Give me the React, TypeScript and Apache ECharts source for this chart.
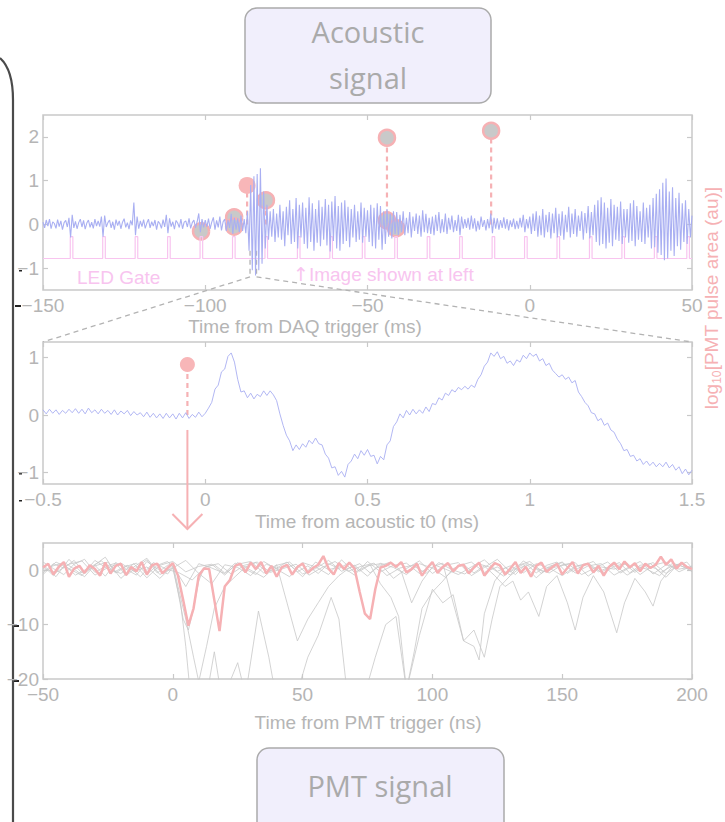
import React, { useEffect, useRef } from 'react';
import * as echarts from 'echarts';

// ---------- Top panel: acoustic signal (ms from DAQ trigger) ----------
const acousticStart = -150;
const acousticStep = 0.5;
const acousticSignal = [
  0.05,-0.08,0.10,-0.04,0.12,-0.10,0.06,0.02,-0.09,0.11,-0.05,0.08,-0.12,0.04,0.09,-0.06,0.15,-0.30,0.22,-0.08,
  0.07,-0.10,0.04,0.12,-0.06,0.09,-0.11,0.03,0.10,-0.07,0.05,-0.09,0.12,-0.04,0.08,-0.05,0.18,-0.28,0.20,-0.06,
  0.04,0.10,-0.08,0.06,-0.12,0.11,-0.03,0.08,-0.10,0.05,0.13,-0.07,0.04,-0.11,0.09,-0.02,0.50,-0.25,0.18,-0.10,
  0.08,-0.05,0.11,-0.09,0.03,0.12,-0.08,0.06,-0.04,0.10,-0.12,0.07,0.02,-0.09,0.11,-0.06,0.22,-0.20,0.14,-0.05,
  0.06,-0.11,0.09,0.03,-0.07,0.12,-0.10,0.05,0.08,-0.06,0.14,-0.09,0.04,0.10,-0.08,0.06,0.25,-0.18,0.12,-0.07,
  0.10,-0.06,0.13,-0.10,0.05,0.16,-0.12,0.09,-0.07,0.18,-0.14,0.06,0.12,-0.15,0.10,-0.08,0.24,-0.22,0.15,-0.12,
  0.14,-0.18,0.20,-0.15,0.12,-0.20,0.30,-0.60,0.90,-1.05,1.10,-1.17,1.15,-1.05,1.28,-0.90,0.75,-0.55,0.45,-0.35,
  0.30,-0.28,0.35,-0.40,0.25,-0.30,0.45,-0.35,0.30,-0.50,0.40,-0.25,0.55,-0.45,0.35,-0.40,0.60,-0.55,0.45,-0.30,
  0.50,-0.45,0.38,-0.55,0.62,-0.40,0.48,-0.60,0.35,-0.42,0.55,-0.50,0.40,-0.35,0.58,-0.48,0.45,-0.62,0.52,-0.38,
  0.65,-0.55,0.42,-0.60,0.50,-0.45,0.55,-0.38,0.40,-0.52,0.35,-0.30,0.45,-0.40,0.30,-0.35,0.50,-0.42,0.38,-0.28,
  0.32,-0.40,0.45,-0.50,0.38,-0.55,0.48,-0.35,0.42,-0.58,0.30,-0.45,0.35,-0.28,0.25,-0.32,0.30,-0.22,0.28,-0.25,
  0.22,-0.18,0.30,-0.25,0.15,-0.20,0.28,-0.30,0.18,-0.15,0.25,-0.22,0.20,-0.28,0.32,-0.18,0.24,-0.20,0.15,-0.22,
  0.18,-0.25,0.22,-0.15,0.28,-0.20,0.12,-0.18,0.25,-0.22,0.15,-0.12,0.20,-0.18,0.10,-0.15,0.22,-0.25,0.18,-0.10,
  0.12,-0.08,0.15,-0.12,0.20,-0.10,0.14,-0.16,0.08,-0.12,0.18,-0.06,0.10,-0.14,0.12,-0.09,0.25,-0.20,0.15,-0.10,
  0.14,-0.12,0.10,-0.08,0.16,-0.10,0.12,-0.14,0.09,-0.06,0.13,-0.11,0.08,-0.10,0.15,-0.07,0.22,-0.18,0.12,-0.09,
  0.18,-0.22,0.25,-0.15,0.30,-0.28,0.20,-0.25,0.35,-0.30,0.22,-0.18,0.28,-0.32,0.25,-0.20,0.38,-0.30,0.24,-0.26,
  0.30,-0.35,0.22,-0.18,0.40,-0.30,0.25,-0.22,0.35,-0.28,0.20,-0.15,0.30,-0.35,0.26,-0.20,0.42,-0.32,0.28,-0.25,
  0.45,-0.40,0.55,-0.48,0.62,-0.45,0.50,-0.55,0.38,-0.42,0.58,-0.50,0.45,-0.35,0.40,-0.38,0.52,-0.45,0.35,-0.30,
  0.35,-0.42,0.48,-0.38,0.55,-0.50,0.42,-0.35,0.30,-0.40,0.50,-0.45,0.38,-0.30,0.45,-0.55,0.60,-0.52,0.70,-0.65,
  0.80,-0.70,0.95,-0.82,1.05,-0.78,0.75,-0.60,0.85,-0.72,0.60,-0.50,0.72,-0.58,0.48,-0.40,0.55,-0.45,0.35,-0.30,
  0.20,
];

const ledGateTimes = [-141.6,-131.6,-121.6,-111.6,-101.6,-91.6,-81.6,-71.6,-61.6,-51.6,-41.6,-31.6,-21.6,-11.6,-1.6,8.4,18.4,28.4,38.4,48.4];
const ledGateLow = -0.78;
const ledGateHigh = -0.28;
const ledGateWidth = 0.8;

const pulseTimes = [-101.3, -91.1, -91.1, -81.3, -44.0, -44.0, -41.2, -11.9];
const pulseAreas = [-0.16, 0.16, -0.05, 0.55, 1.98, 0.09, -0.09, 2.14];
const selectedPulseTime = -87.1;
const selectedPulseArea = 0.89;
const zoomWindow = [-86.2, -84.2];

// ---------- Middle panel: zoom around acoustic t0 (ms) ----------
const zoomStart = -0.5;
const zoomStep = 0.01;
const zoomedSignal = [
  0.09,0.02,0.10,0.03,0.09,0.01,0.08,0.03,0.10,0.04,
  0.11,0.03,0.10,0.02,0.12,0.04,0.09,0.02,0.10,0.03,
  0.08,0.01,0.09,0.00,0.07,0.02,0.08,-0.01,0.06,0.00,
  0.04,-0.03,0.05,-0.04,0.03,-0.05,0.02,-0.06,0.03,-0.05,
  0.02,-0.07,0.03,-0.05,0.04,-0.06,0.01,-0.04,0.05,-0.03,
  0.03,0.12,0.22,0.45,0.52,0.75,0.80,1.02,1.08,0.92,
  0.62,0.40,0.42,0.30,0.38,0.28,0.36,0.32,0.42,0.34,
  0.42,0.35,0.25,0.02,-0.18,-0.35,-0.45,-0.62,-0.52,-0.60,
  -0.50,-0.56,-0.44,-0.50,-0.40,-0.50,-0.52,-0.68,-0.75,-0.92,
  -0.90,-1.05,-0.98,-1.08,-0.86,-0.80,-0.68,-0.76,-0.62,-0.70,
  -0.60,-0.72,-0.70,-0.85,-0.72,-0.78,-0.52,-0.45,-0.20,-0.12,
  0.02,-0.05,0.08,0.00,0.10,0.02,0.09,0.03,0.14,0.06,
  0.20,0.18,0.30,0.26,0.38,0.34,0.44,0.40,0.48,0.44,
  0.50,0.45,0.52,0.48,0.62,0.70,0.85,0.92,1.08,1.02,
  1.10,0.98,1.02,0.90,0.94,0.86,0.96,0.92,1.04,0.98,
  1.08,1.02,1.06,0.94,0.98,0.86,0.90,0.78,0.72,0.66,
  0.70,0.62,0.66,0.56,0.60,0.40,0.32,0.22,0.16,0.04,
  0.02,-0.10,-0.06,-0.18,-0.14,-0.26,-0.30,-0.42,-0.50,-0.62,
  -0.60,-0.72,-0.70,-0.80,-0.76,-0.86,-0.80,-0.88,-0.82,-0.90,
  -0.84,-0.90,-0.82,-0.92,-0.86,-0.96,-0.90,-1.02,-0.94,-1.04,
  -0.96,
];
const t0PulseTime = -0.055;
const t0PulseArea = 0.88;

// ---------- Bottom panel: PMT traces (ns from PMT trigger) ----------
const pmtStart = -50;
const pmtStep = 2;
const pmtSelected = [
  0.5,1.2,-0.8,0.6,1.5,-1.2,0.3,0.8,-0.5,0.9,
  0.2,-1.0,1.4,-0.6,0.8,1.2,-0.9,0.6,-0.2,1.5,
  -0.8,0.9,1.2,-0.6,0.4,1.3,-1.0,-5.5,-10.2,-7.0,
  -1.0,0.3,0.2,-5.5,-11.2,-3.0,-1.8,0.8,1.2,-0.4,
  1.4,0.2,1.5,-0.6,0.8,-1.2,0.5,1.0,-0.8,0.6,
  1.2,-0.5,0.4,1.0,2.6,0.3,-0.8,1.3,0.2,1.4,
  0.3,-4.0,-8.0,-9.0,-3.5,0.5,0.8,1.4,0.6,1.5,
  -0.4,0.2,1.2,-1.0,0.4,1.5,-0.5,0.6,1.3,-0.2,
  0.8,1.0,-0.6,0.5,1.4,-1.0,0.2,1.3,0.9,-0.8,
  0.3,1.5,-0.5,0.6,-1.2,0.8,1.4,-0.3,0.5,1.2,
  -0.8,0.4,1.5,-0.6,0.9,1.2,-0.4,0.8,-1.0,0.6,
  1.4,0.2,1.6,0.5,1.3,-0.2,1.2,0.4,1.0,2.5,
  1.0,2.0,0.3,1.4,0.6,
  0.2,
];
const pmtNoiseStart = -50;
const pmtNoiseStep = 5;
const pmtNoiseA = [1.0,-1.2,2.0,-0.5,0.8,1.5,-1.5,0.6,2.2,-0.8,0.4,1.8,-0.6,-2.5,1.0,0.5,-1.0,1.6,0.2,-1.2,1.4,0.6,-0.8,1.9,-0.4,0.8,1.2,-1.5,0.3,1.7,-0.6,0.9,1.4,-1.0,0.5,2.0,-0.3,1.1,-1.4,0.7,1.5,-0.5,0.8,1.2,-0.9,0.4,1.6,-0.7,1.0,0.2,0.6];
const pmtNoiseB = [-0.8,1.5,0.3,-1.0,1.8,0.2,-0.6,1.2,-1.4,0.9,1.6,-0.3,0.7,1.1,-0.9,1.4,0.0,-1.3,0.9,1.5,-0.7,0.3,1.8,-0.2,0.9,-1.1,1.3,0.5,-0.8,1.2,0.4,-1.3,0.8,1.5,-0.4,0.6,-0.9,1.7,0.3,-0.5,1.0,1.4,-1.1,0.6,0.2,1.3,-0.8,0.9,1.5,-0.3,0.8];
const pmtNoiseC = [0.3,-0.4,1.1,1.7,-0.9,0.5,1.3,-0.2,0.6,-1.5,0.8,-3.0,1.2,0.4,-0.6,1.1,1.6,-0.5,0.3,1.0,-1.2,1.5,0.1,0.7,-0.9,1.6,-0.3,0.9,1.3,-0.6,1.1,0.2,-0.8,0.6,1.9,-0.2,0.8,-0.5,1.2,0.4,-1.0,0.7,1.3,-0.4,1.1,-0.9,0.5,1.4,-0.6,1.0,-0.2];
const pmtNoiseEStart = -47.5;
const pmtNoiseE = [0.6,1.3,-0.9,0.4,1.7,-0.3,0.9,-1.2,1.4,0.2,-0.5,-1.8,0.6,1.2,-0.7,0.9,1.5,-0.4,0.3,1.1,-0.9,0.5,1.6,-0.2,0.7,1.3,-1.0,0.4,0.9,-0.6,1.4,0.1,-0.7,1.2,0.5,-1.1,0.8,1.6,-0.3,0.6,1.1,-0.8,0.4,1.5,-0.5,0.9,0.2,-1.0,1.3,0.5];
const pmtTraceD1 = [[-50,0.8],[-46,-1.0],[-42,1.5],[-38,0.2],[-34,-1.2],[-30,1.0],[-26,2.4],[-22,-0.5],[-18,0.7],[-14,1.3],[-10,-0.8],[-6,0.9],[-2,1.6],[0,0.6],[3,-6],[5,-14],[7,-24],[12,-26],[16,-15],[19,-24],[25,-17],[28,-23],[33,-7.5],[37,-16],[40,-24],[47,-24],[52,-16],[56,-12],[61,-5],[64,-9],[67,-22],[72,-26],[78,-16],[82,-10],[86,-8.5],[90,-22],[95,-12],[100,-3.5],[104,-6],[108,-4.5],[112,-13],[116,-14],[118,-16.5],[120,-8],[124,-2],[128,0.5],[132,-0.8],[136,1.2],[140,-0.5],[144,0.9],[148,1.5],[152,-0.6],[156,0.8],[160,1.1],[164,-0.3],[168,0.6],[172,1.4],[176,-0.5],[180,0.9],[184,1.2],[188,-0.4],[192,0.7],[196,1.3],[200,0.2]];
const pmtTraceD2 = [[-50,-0.5],[-46,1.2],[-42,0.4],[-38,1.8],[-34,-0.6],[-30,0.9],[-26,-1.1],[-22,1.4],[-18,0.2],[-14,-0.9],[-10,1.6],[-6,0.3],[-2,-0.7],[0,0.5],[2,-4],[4,-9],[6,-11],[8,-7],[10,-2],[12,0.5],[16,1.0],[20,-0.5],[24,1.3],[28,0.2],[32,-0.8],[36,1.1],[40,0.4],[44,1.5],[48,-0.3],[52,0.8],[56,-0.6],[60,1.2],[64,0.3],[68,1.4],[72,-0.2],[76,1.0],[80,-2.5],[84,-5],[87,-8.5],[90,-22],[93,-15],[96,-7],[100,-4],[104,-2],[108,0.3],[112,1.0],[116,-0.5],[120,0.8],[124,-1.0],[128,-3],[131,-2],[134,-5.5],[137,-4],[141,-8.5],[144,-3],[148,-1],[152,-6],[155,-11],[158,-5],[162,-1],[166,-4],[171,-11.5],[174,-6],[178,-1.5],[182,-4],[185,-6.6],[188,-2],[192,0.5],[196,1.2],[200,-0.3]];
const pmtTraceD3 = [[-50,1.5],[-46,0.3],[-42,-0.8],[-38,1.1],[-34,2.0],[-30,-0.4],[-26,0.7],[-22,1.3],[-18,-1.0],[-14,0.5],[-10,1.9],[-6,-0.5],[-2,0.9],[0,1.2],[2,-3],[5,-9],[8,-16],[10,-20.5],[13,-14],[16,-7],[20,-3],[24,-1.2],[28,0.6],[32,1.4],[36,-0.3],[40,1.0],[44,-6],[48,-13],[52,-9],[56,-6],[60,-3],[64,-1],[68,0.4],[72,1.2],[76,-0.5],[80,0.9],[84,1.5],[88,-0.2],[92,-6],[96,-2],[100,0.6],[104,1.3],[108,-6],[112,-13],[116,-11],[120,-16],[123,-9],[126,-3],[130,-1],[134,0.5],[138,1.1],[142,-0.6],[146,0.8],[150,1.4],[154,-0.3],[158,0.9],[162,1.6],[166,-0.5],[170,0.7],[174,1.2],[178,-0.4],[182,1.0],[186,0.3],[190,-1.3],[194,0.8],[198,1.5],[200,0.4]];

// ---------- tick labels ----------
const topYTicks = [-1, 0, 1, 2];
const midYTicks = [-1, 0, 1];
const botYTicks = [-20, -10, 0];

const FRAME = '#c9c9c9';
const TXT = '#b5b5b5';
const BLUE = '#a9aff2';
const PINK = '#f6b1b4';
const MAGENTA = '#f8c4ef';
const FONT = '"Liberation Sans", Arial, Helvetica, sans-serif';
const FS = 19;

const fmt = (v: number) => (v < 0 ? '\u2212' + String(Math.abs(v)) : String(v));

function xAx(gridIndex: number, min: number, max: number, interval: number, bottom: boolean) {
  return {
    type: 'value', gridIndex, min, max, interval, position: bottom ? 'bottom' : 'top',
    axisLine: { show: false, onZero: false },
    axisTick: { show: true, inside: true, length: 5, lineStyle: { color: FRAME, width: 1.2 } },
    axisLabel: { show: bottom, color: TXT, fontSize: FS, fontFamily: FONT, lineHeight: 15, margin: 8, formatter: fmt },
    splitLine: { show: false },
  };
}
function yAx(gridIndex: number, min: number, max: number, ticks: number[], left: boolean) {
  return {
    type: 'value', gridIndex, min, max, position: left ? 'left' : 'right',
    axisLine: { show: false, onZero: false },
    axisTick: { show: true, inside: true, length: 5, customValues: ticks, lineStyle: { color: FRAME, width: 1.2 } },
    axisLabel: { show: left, customValues: ticks, color: TXT, fontSize: FS, fontFamily: FONT, lineHeight: 15, margin: 4, formatter: fmt },
    splitLine: { show: false },
  };
}

export default function App() {
  const ref = useRef<HTMLDivElement>(null);
  useEffect(() => {
    if (!ref.current) return;
    const chart = echarts.init(ref.current, undefined, { renderer: 'svg' });

    const acousticData = acousticSignal.map((v, i) => [acousticStart + i * acousticStep, v]);
    const gateData: number[][] = [[acousticStart, ledGateLow]];
    ledGateTimes.forEach((t) => {
      gateData.push([t, ledGateLow], [t, ledGateHigh], [t + ledGateWidth, ledGateHigh], [t + ledGateWidth, ledGateLow]);
    });
    gateData.push([50, ledGateLow]);
    const pulseData = pulseTimes.map((t, i) => [t, pulseAreas[i]]);
    const zoomData = zoomedSignal.map((v, i) => [zoomStart + i * zoomStep, v]);
    const selData = pmtSelected.map((v, i) => [pmtStart + i * pmtStep, v]);
    const noise = (arr: number[], start: number) => arr.map((v, i) => [start + i * pmtNoiseStep, v]);

    const stemRender = (params: any, api: any) => {
      const t = api.value(0);
      const a = api.value(1);
      const p1 = api.coord([t, a]);
      const p0 = api.coord([t, 0]);
      return {
        type: 'line',
        shape: { x1: p0[0], y1: p0[1], x2: p1[0], y2: p1[1] },
        style: { stroke: PINK, lineWidth: 2.2, lineDash: [5, 4] },
      };
    };

    const grayLine = (data: number[][]) => ({
      type: 'line', xAxisIndex: 2, yAxisIndex: 2, data, symbol: 'none', silent: true, clip: true,
      lineStyle: { color: '#c8c8c8', width: 0.8 },
    });

    const option: any = {
      animation: false,
      backgroundColor: '#ffffff',
      grid: [
        { left: 43, top: 115, width: 649, height: 175, show: true, borderColor: FRAME, borderWidth: 1.5 },
        { left: 43, top: 342, width: 649, height: 142, show: true, borderColor: FRAME, borderWidth: 1.5 },
        { left: 43, top: 543, width: 649, height: 136, show: true, borderColor: FRAME, borderWidth: 1.5 },
      ],
      xAxis: [
        xAx(0, -150, 50, 50, true),
        xAx(1, -0.5, 1.5, 0.5, true),
        xAx(2, -50, 200, 50, true),
        xAx(0, -150, 50, 50, false),
        xAx(1, -0.5, 1.5, 0.5, false),
        xAx(2, -50, 200, 50, false),
      ],
      yAxis: [
        yAx(0, -1.5, 2.5, topYTicks, true),
        yAx(1, -1.2, 1.27, midYTicks, true),
        yAx(2, -20, 5, botYTicks, true),
        yAx(0, -1.5, 2.5, topYTicks, false),
        yAx(1, -1.2, 1.27, midYTicks, false),
        yAx(2, -20, 5, botYTicks, false),
      ],
      series: [
        { type: 'line', xAxisIndex: 0, yAxisIndex: 0, data: gateData, symbol: 'none', silent: true,
          lineStyle: { color: MAGENTA, width: 1.2 } },
        { type: 'custom', xAxisIndex: 0, yAxisIndex: 0, data: [...pulseData, [selectedPulseTime, selectedPulseArea]],
          renderItem: stemRender, silent: true },
        { type: 'line', xAxisIndex: 0, yAxisIndex: 0, data: acousticData, symbol: 'none', silent: true,
          lineStyle: { color: BLUE, width: 1.1 } },
        { type: 'scatter', xAxisIndex: 0, yAxisIndex: 0, data: pulseData, symbolSize: 16, silent: true,
          itemStyle: { color: '#c9c9c9', borderColor: PINK, borderWidth: 2.5, opacity: 1 } },
        { type: 'scatter', xAxisIndex: 0, yAxisIndex: 0, data: [[selectedPulseTime, selectedPulseArea]], symbolSize: 17, silent: true,
          itemStyle: { color: '#f8b6b8', opacity: 1 } },
        { type: 'line', xAxisIndex: 1, yAxisIndex: 1, data: zoomData, symbol: 'none', silent: true,
          lineStyle: { color: BLUE, width: 0.9 } },
        { type: 'custom', xAxisIndex: 1, yAxisIndex: 1, data: [[t0PulseTime, t0PulseArea]], renderItem: stemRender, silent: true },
        { type: 'scatter', xAxisIndex: 1, yAxisIndex: 1, data: [[t0PulseTime, t0PulseArea]], symbolSize: 15, silent: true,
          itemStyle: { color: '#f8b6b8', opacity: 1 } },
        grayLine(noise(pmtNoiseA, pmtNoiseStart)),
        grayLine(noise(pmtNoiseB, pmtNoiseStart)),
        grayLine(noise(pmtNoiseC, pmtNoiseStart)),
        grayLine(noise(pmtNoiseE, pmtNoiseEStart)),
        grayLine(pmtTraceD1),
        grayLine(pmtTraceD2),
        grayLine(pmtTraceD3),
        { type: 'line', xAxisIndex: 2, yAxisIndex: 2, data: selData, symbol: 'none', silent: true, clip: true,
          lineStyle: { color: PINK, width: 2.5 } },
      ],
    };
    chart.setOption(option);

    const top = (p: number[]) => chart.convertToPixel({ seriesIndex: 2 }, p) as unknown as number[];
    const mid = (p: number[]) => chart.convertToPixel({ seriesIndex: 5 }, p) as unknown as number[];
    const wl = top([zoomWindow[0], -1.2]);
    const wr = top([zoomWindow[1], -1.2]);
    const wlt = top([zoomWindow[0], -0.6]);
    const wrt = top([zoomWindow[1], -0.6]);
    const ml = mid([-0.5, 1.27]);
    const mr = mid([1.5, 1.27]);
    const arrowTop = mid([t0PulseTime, -0.26]);
    const ax = arrowTop[0];
    const arrowBottom = 529;

    const dash = { stroke: '#b3b3b3', lineWidth: 1.3, lineDash: [5, 4], fill: 'none' };
    const txt = (text: string, x: number, y: number, size: number, color: string, align = 'center', family = FONT) => ({
      type: 'text', x, y, silent: true, z: 100,
      style: { text, fill: color, fontSize: size, fontFamily: family, align, textAlign: align, verticalAlign: 'middle', textVerticalAlign: 'middle' },
    });

    const graphics: any[] = [
      // left bracket
      { type: 'bezierCurve', silent: true, shape: { x1: 0, y1: 58, cpx1: 9, cpy1: 66, cpx2: 13, cpy2: 80, x2: 13, y2: 100 },
        style: { stroke: '#4a4a4a', lineWidth: 2.2, fill: 'none' } },
      { type: 'line', silent: true, shape: { x1: 13, y1: 100, x2: 13, y2: 822 }, style: { stroke: '#4a4a4a', lineWidth: 2.2 } },
      // small dark marks next to leftmost labels
      { type: 'rect', silent: true, shape: { x: 19, y: 270, width: 3, height: 1.5 }, style: { fill: '#222' } },
      { type: 'rect', silent: true, shape: { x: 15, y: 305, width: 6, height: 2 }, style: { fill: '#222' } },
      { type: 'rect', silent: true, shape: { x: 19, y: 473, width: 3, height: 1.5 }, style: { fill: '#222' } },
      { type: 'rect', silent: true, shape: { x: 19, y: 500, width: 3, height: 1.5 }, style: { fill: '#222' } },
      { type: 'rect', silent: true, shape: { x: 14, y: 625, width: 5, height: 2 }, style: { fill: '#222' } },
      { type: 'rect', silent: true, shape: { x: 14, y: 680, width: 5, height: 2 }, style: { fill: '#222' } },
      // boxes
      { type: 'rect', silent: true, shape: { x: 245, y: 8, width: 246, height: 95, r: 12 },
        style: { fill: '#f1effc', stroke: '#ababab', lineWidth: 1.5 } },
      txt('Acoustic', 368, 31, 29, '#aaaaaa', 'center', '"Open Sans", "Noto Sans", sans-serif'),
      txt('signal', 368, 77, 29, '#aaaaaa', 'center', '"Open Sans", "Noto Sans", sans-serif'),
      { type: 'rect', silent: true, shape: { x: 257, y: 748, width: 247, height: 95, r: 12 },
        style: { fill: '#f1effc', stroke: '#ababab', lineWidth: 1.5 } },
      txt('PMT signal', 380, 785, 29, '#aaaaaa', 'center', '"Open Sans", "Noto Sans", sans-serif'),
      // axis titles
      txt('Time from DAQ trigger (ms)', 305, 326, FS, TXT),
      txt('Time from acoustic t0 (ms)', 367, 521, FS, TXT),
      txt('Time from PMT trigger (ns)', 368, 722, FS, TXT),
      // annotations
      txt('LED Gate', 77, 277, FS, MAGENTA, 'left'),
      {
        type: 'text', x: 293, y: 274, silent: true, z: 100,
        style: {
          text: '{arr|\u2191}{t|Image shown at left}',
          align: 'left', textAlign: 'left', verticalAlign: 'middle', textVerticalAlign: 'middle',
          rich: {
            arr: { fill: MAGENTA, fontSize: 19, fontFamily: '"DejaVu Sans", sans-serif' },
            t: { fill: MAGENTA, fontSize: FS, fontFamily: FONT },
          },
        },
      },
      {
        type: 'text', x: 711, y: 298, rotation: Math.PI / 2, silent: true, z: 100,
        style: {
          text: '{a|log}{b|10}{a|[PMT pulse area (au)]}',
          align: 'center', textAlign: 'center', verticalAlign: 'middle', textVerticalAlign: 'middle',
          rich: {
            a: { fill: PINK, fontSize: FS, fontFamily: FONT, lineHeight: 24, verticalAlign: 'middle' },
            b: { fill: PINK, fontSize: 12, fontFamily: FONT, lineHeight: 24, verticalAlign: 'bottom' },
          },
        },
      },
      // zoom lines
      { type: 'line', silent: true, shape: { x1: wlt[0], y1: wlt[1], x2: wl[0], y2: wl[1] }, style: dash },
      { type: 'line', silent: true, shape: { x1: wrt[0], y1: wrt[1], x2: wr[0], y2: wr[1] }, style: dash },
      { type: 'line', silent: true, shape: { x1: wl[0], y1: wl[1], x2: ml[0], y2: ml[1] }, style: dash },
      { type: 'line', silent: true, shape: { x1: wr[0], y1: wr[1], x2: mr[0], y2: mr[1] }, style: dash },
      // arrow from acoustic t0 pulse down to PMT panel
      { type: 'line', silent: true, shape: { x1: ax, y1: arrowTop[1], x2: ax, y2: arrowBottom },
        style: { stroke: PINK, lineWidth: 2 } },
      { type: 'polyline', silent: true, shape: { points: [[ax - 15, arrowBottom - 15], [ax, arrowBottom], [ax + 15, arrowBottom - 15]] },
        style: { stroke: PINK, lineWidth: 2, fill: 'none' } },
    ];
    chart.setOption({ graphic: graphics });

    return () => chart.dispose();
  }, []);
  return <div ref={ref} style={{ position: 'fixed', left: 0, top: 0, width: 725, height: 822 }} />;
}
